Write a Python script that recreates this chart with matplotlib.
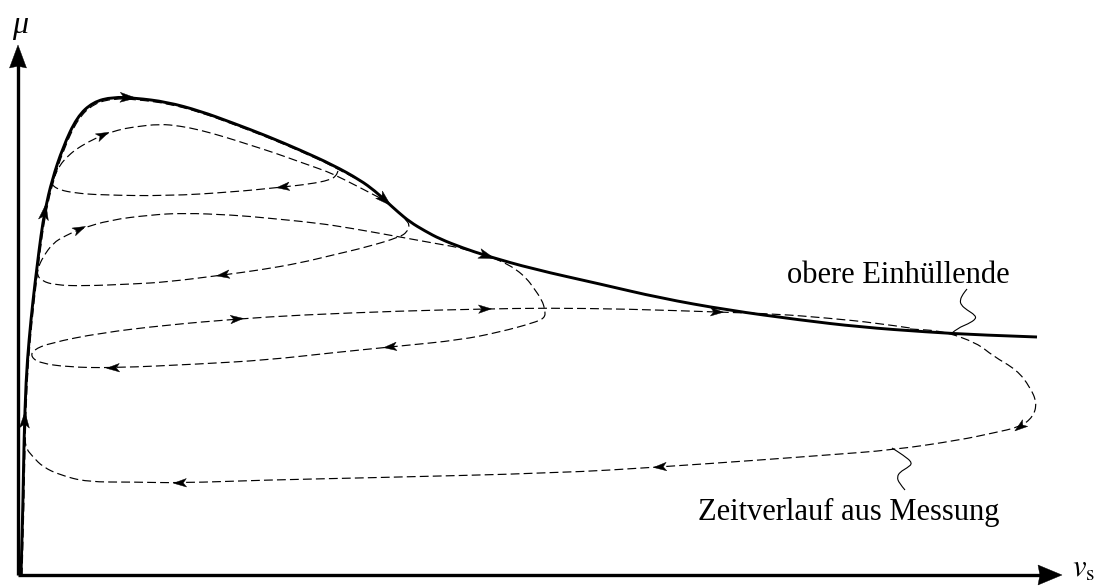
import numpy as np
import matplotlib
matplotlib.use("Agg")
import matplotlib.pyplot as plt
from matplotlib.patches import Polygon, PathPatch
from matplotlib.path import Path
import matplotlib.transforms as mtransforms

plt.rcParams['font.family'] = ['Liberation Serif', 'DejaVu Serif']
plt.rcParams['mathtext.fontset'] = 'stix'

# ---------------------------------------------------------------------------
# Upper envelope  mu(v_s)
env_vs = [3, 5, 6, 8, 11, 15, 19, 23, 27, 34, 45, 59, 75, 95, 117, 149, 182,
          215, 249, 282, 315, 342, 357, 369, 380, 392, 407, 422, 445, 469, 515,
          582, 642, 709, 782, 842, 909, 962, 1019]
env_mu = [0, 75, 135, 195, 235, 275, 308, 340, 365, 395, 428, 458, 473, 478,
          477, 473, 464, 452, 439, 425, 410, 395, 384, 373, 363, 353, 344, 336,
          327, 319, 306, 291, 277, 265, 255, 248, 243, 240, 238]
env_arrow_vs = [7, 27, 110, 367, 469]
env_arrow_mu = [155, 363, 476, 375, 319]

# Measured time history, split into its four slip cycles
loop1_vs = [320, 318, 312, 292, 265, 215, 149, 82, 57, 42, 35, 34, 37, 42, 49,
            57, 70, 85, 100, 115, 142, 162, 182, 207, 232, 257, 282, 302, 315,
            337, 362]
loop1_mu = [404, 399, 395, 391, 388, 383, 379, 380, 382, 385, 389, 392, 400,
            410, 418, 425, 433, 440, 445, 448, 451, 449, 445, 438, 430, 422,
            413, 406, 401, 390, 377]
loop1_arrow_vs = [85, 265]
loop1_arrow_mu = [440, 388]

loop2_vs = [387, 392, 389, 382, 349, 315, 282, 242, 205, 149, 115, 65, 37, 24,
            19, 20, 25, 35, 47, 62, 92, 132, 165, 215, 249, 299, 332, 382, 415,
            449, 469]
loop2_mu = [356, 350, 343, 338, 328, 320, 312, 305, 300, 293, 291, 289, 290,
            294, 300, 307, 318, 332, 339, 346, 355, 360, 362, 360, 357, 352,
            347, 338, 332, 326, 319]
loop2_arrow_vs = [62, 205]
loop2_arrow_mu = [345, 300]

loop3_vs = [475, 487, 499, 509, 515, 524, 527, 527, 515, 482, 442, 382, 312,
            249, 182, 95, 49, 22, 13, 15, 32, 82, 149, 219, 282, 382, 467, 527,
            609, 699, 759, 809, 859, 892]
loop3_mu = [317, 312, 305, 296, 288, 275, 265, 257, 252, 243, 235, 229, 222,
            215, 211, 207, 208, 212, 218, 225, 232, 242, 250, 256, 260, 264,
            266, 267, 266, 263, 261, 257, 252, 247]
loop3_arrow_vs = [372, 95, 219, 467, 699]
loop3_arrow_mu = [229, 207, 256, 266, 263]

loop4_vs = [892, 925, 959, 975, 999, 1012, 1019, 1015, 1002, 975, 942, 875,
            809, 742, 642, 542, 342, 249, 162, 115, 69, 42, 25, 15, 7, 7]
loop4_mu = [246, 244, 232, 219, 205, 188, 172, 158, 148, 142, 135, 125, 120,
            115, 108, 102, 97, 95, 92, 93, 93, 100, 108, 118, 128, 138]
loop4_arrow_vs = [1002, 642, 162]
loop4_arrow_mu = [148, 108, 92]

# Wavy leader lines from the labels to their curves
lead_env_vs = [949, 945, 942, 943, 949, 957, 958, 950, 940, 934]
lead_env_mu = [286, 281, 275, 270, 265, 260, 256, 251, 247, 242]
lead_meas_vs = [874, 885, 895, 889, 882, 879, 881, 887]
lead_meas_mu = [127, 120, 112, 107, 103, 98, 92, 85]

label_env = "obere Einhüllende"
label_meas = "Zeitverlauf aus Messung"

# ---------------------------------------------------------------------------
fig = plt.figure(figsize=(10.95, 5.87), dpi=100)
ax = fig.add_axes([0, 0, 1, 1])
ax.set_xlim(-18, 1077)
ax.set_ylim(-12, 575)
ax.axis('off')

DASH = (0, (7.5, 3.5))
LW_DASH = 0.85
LW_ENV = 2.1
LW_AX = 2.4


def smooth_path(xs, ys):
    """Quadratic Bezier path that uses the given points as control polygon."""
    p = np.column_stack([xs, ys]).astype(float)
    verts = [p[0]]
    codes = [Path.MOVETO]
    if len(p) == 2:
        verts.append(p[1])
        codes.append(Path.LINETO)
        return Path(verts, codes)
    verts.append((p[0] + p[1]) / 2)
    codes.append(Path.LINETO)
    for i in range(1, len(p) - 1):
        end = p[i + 1] if i == len(p) - 2 else (p[i] + p[i + 1]) / 2
        verts += [p[i], end]
        codes += [Path.CURVE3, Path.CURVE3]
    return Path(verts, codes)


def draw_curve(xs, ys, transform=None, **kw):
    patch = PathPatch(smooth_path(xs, ys), fill=False, **kw)
    if transform is not None:
        patch.set_transform(transform)
    ax.add_patch(patch)


def head(x, y, dx, dy, length, width, notch=0.25):
    """Filled stealth-style arrow head centred on (x, y) pointing along (dx, dy)."""
    n = np.hypot(dx, dy)
    ux, uy = dx / n, dy / n
    px, py = -uy, ux
    tip = (x + ux * length / 2, y + uy * length / 2)
    bx, by = x - ux * length / 2, y - uy * length / 2
    left = (bx + px * width / 2, by + py * width / 2)
    right = (bx - px * width / 2, by - py * width / 2)
    nt = (bx + ux * length * notch, by + uy * length * notch)
    ax.add_patch(Polygon([tip, left, nt, right], closed=True,
                         fc='black', ec='black', lw=0.3, zorder=5))


def arrows_on(xs, ys, axs, ays, length, width):
    """Place heads on the smoothed curve at the points closest to (axs, ays)."""
    pts = smooth_path(xs, ys).interpolated(20).vertices
    for qx, qy in zip(axs, ays):
        q = np.array([qx, qy], float)
        best = None
        for i in range(len(pts) - 1):
            a, b = pts[i], pts[i + 1]
            d = b - a
            dd = np.dot(d, d)
            if dd == 0:
                continue
            t = np.clip(np.dot(q - a, d) / dd, 0, 1)
            c = a + t * d
            dist = np.hypot(*(q - c))
            if best is None or dist < best[0]:
                best = (dist, c, d)
        _, c, d = best
        head(c[0], c[1], d[0], d[1], length, width)


# coordinate axes
ax.plot([0, 0], [0, 512], color='black', lw=LW_AX, solid_capstyle='butt')
ax.plot([0, 1025], [0, 0], color='black', lw=LW_AX, solid_capstyle='butt')
head(0, 518.5, 0, 1, 23, 17, notch=0.08)
head(1032, 0, 1, 0, 24, 20, notch=0.08)
ax.text(2, 549, 'μ', fontsize=23, style='italic', ha='center', va='center')
ax.text(1054, -2, r'$v_{\mathrm{s}}$', fontsize=22, ha='left', va='baseline')

# measured trace running along the envelope (slightly offset below it)
shift = mtransforms.ScaledTranslation(1 / 100, -1.5 / 100, fig.dpi_scale_trans)
draw_curve(env_vs[:22], env_mu[:22], transform=ax.transData + shift,
           edgecolor='black', lw=LW_DASH, ls=DASH)

for xs, ys, axs, ays in [(loop1_vs, loop1_mu, loop1_arrow_vs, loop1_arrow_mu),
                         (loop2_vs, loop2_mu, loop2_arrow_vs, loop2_arrow_mu),
                         (loop3_vs, loop3_mu, loop3_arrow_vs, loop3_arrow_mu),
                         (loop4_vs, loop4_mu, loop4_arrow_vs, loop4_arrow_mu)]:
    draw_curve(xs, ys, edgecolor='black', lw=LW_DASH, ls=DASH)
    arrows_on(xs, ys, axs, ays, 13, 8.5)

# envelope
draw_curve(env_vs, env_mu, edgecolor='black', lw=LW_ENV, joinstyle='round',
           zorder=3)
arrows_on(env_vs, env_mu, env_arrow_vs, env_arrow_mu, 16, 10)

# labels with leaders
draw_curve(lead_env_vs, lead_env_mu, edgecolor='black', lw=0.8)
draw_curve(lead_meas_vs, lead_meas_mu, edgecolor='black', lw=0.8)
ax.text(769, 292, label_env, fontsize=22, ha='left', va='baseline')
ax.text(680, 55, label_meas, fontsize=22, ha='left', va='baseline')

fig.savefig('out.png', dpi=100)
